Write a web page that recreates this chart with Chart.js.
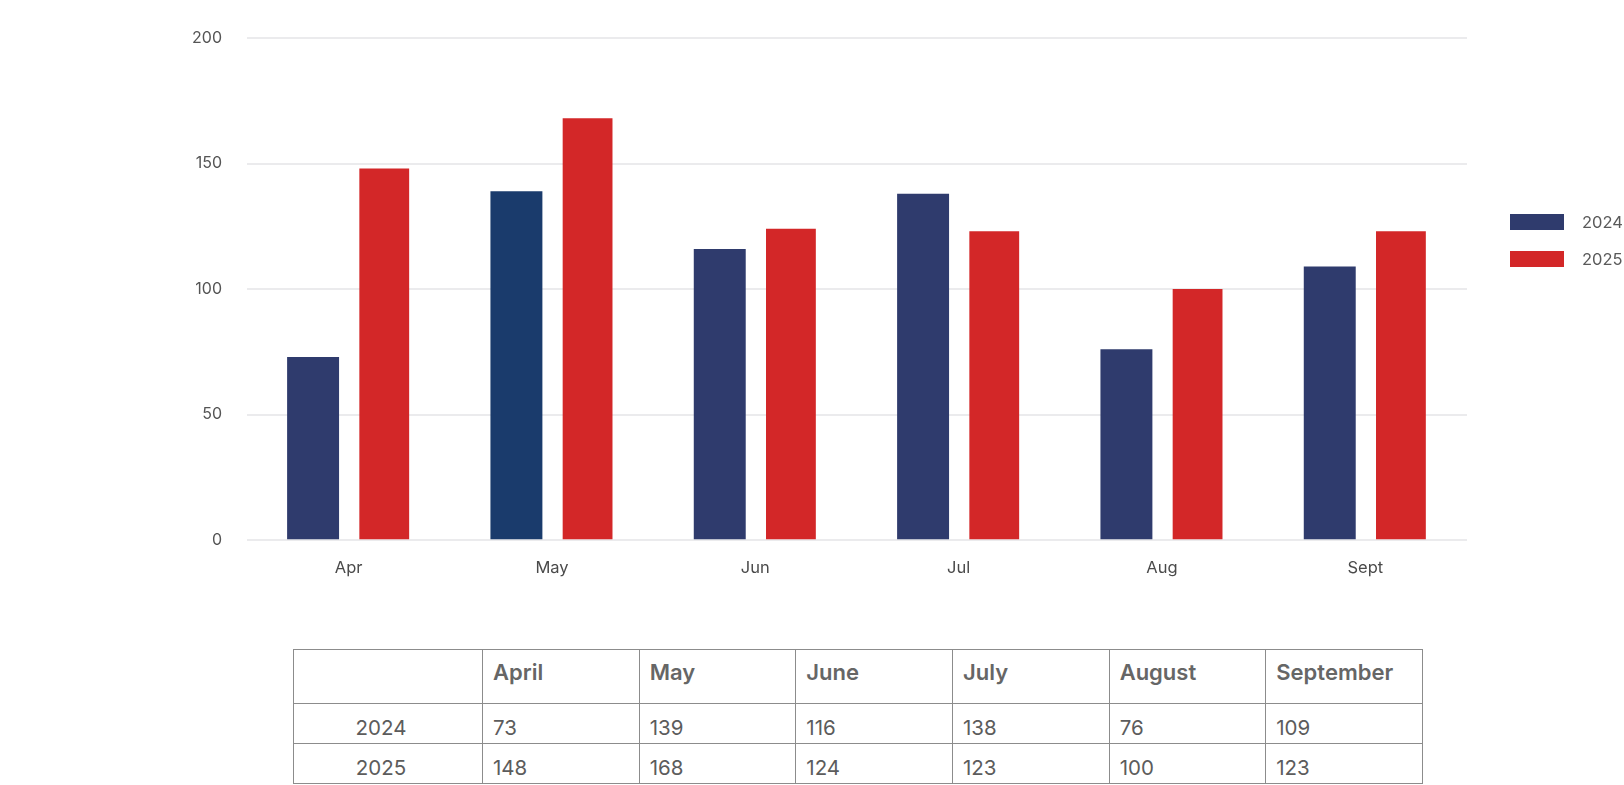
<!DOCTYPE html>
<html>
<head>
<meta charset="utf-8">
<script src="https://cdn.jsdelivr.net/npm/chart.js@4.4.1/dist/chart.umd.min.js"></script>
<style>
    html, body { margin: 0; padding: 0; background: #fff; }
    body { width: 1624px; height: 785px; position: relative; overflow: hidden; font-family: Inter, "Open Sans", sans-serif; }
    #chartBox { position: absolute; left: 0; top: 0; width: 1624px; height: 600px; }
    #legend { position: absolute; left: 1510px; top: 213px; }
    .legend-item { display: flex; align-items: center; height: 18px; margin-bottom: 19px; }
    .legend-swatch { width: 54px; height: 16px; margin-right: 18px; }
    .legend-text { font-size: 16.5px; color: #5a5a5a; }
    #dataTable { position: absolute; left: 293px; top: 649px; border-collapse: collapse; table-layout: fixed; width: 1130px; }
    #dataTable td, #dataTable th { border: 1px solid #8c8c8c; font-size: 20.5px; color: #5c5c5c; padding: 0 0 0 10px; text-align: left; }
    #dataTable th { font-size: 22px; font-weight: 600; height: 54px; vertical-align: top; padding-top: 9px; box-sizing: border-box; color: #666; }
    #dataTable td { height: 40px; vertical-align: middle; padding-top: 8px; box-sizing: border-box; }
    #dataTable td.row-head { text-align: center; padding-left: 0; padding-right: 14px; }
</style>
</head>
<body>
<div id="chartBox"><canvas id="barChart"></canvas></div>
<div id="legend"></div>
<table id="dataTable"></table>

<script>
// --- Data ---
const MONTHS_SHORT = ['Apr', 'May', 'Jun', 'Jul', 'Aug', 'Sept'];
const MONTHS_FULL = ['April', 'May', 'June', 'July', 'August', 'September'];
const SERIES_NAMES = ['2024', '2025'];
const VALUES_2024 = [73, 139, 116, 138, 76, 109];
const VALUES_2025 = [148, 168, 124, 123, 100, 123];
const Y_TICKS = [0, 50, 100, 150, 200];

// --- Colours ---
const NAVY = '#2f3b6d';
const NAVY_MAY = '#1a3b6c'; // May bar is a slightly different blue
const RED = '#d32728';
const colors2024 = MONTHS_SHORT.map((m, i) => (i === 1 ? NAVY_MAY : NAVY));

const ctx = document.getElementById('barChart').getContext('2d');

new Chart(ctx, {
    type: 'bar',
    data: {
        labels: MONTHS_SHORT,
        datasets: [
            { label: SERIES_NAMES[0], data: VALUES_2024, backgroundColor: colors2024, barPercentage: 0.73, categoryPercentage: 0.70 },
            { label: SERIES_NAMES[1], data: VALUES_2025, backgroundColor: RED, barPercentage: 0.70, categoryPercentage: 0.70 }
        ]
    },
    options: {
        responsive: true,
        maintainAspectRatio: false,
        animation: false,
        layout: { padding: { left: 190, right: 157, top: 38, bottom: 12 } },
        plugins: {
            legend: { display: false },
            tooltip: { enabled: false }
        },
        scales: {
            x: {
                grid: { display: false },
                border: { display: false },
                ticks: { color: '#4a4a4a', font: { family: 'Inter', size: 16.5 }, padding: 10 }
            },
            y: {
                min: 0,
                max: 200,
                afterBuildTicks: (scale) => { scale.ticks = Y_TICKS.map(v => ({ value: v })); },
                afterFit: (scale) => { scale.width = 57; },
                grid: { color: '#ebebed', lineWidth: 2, drawTicks: false },
                border: { display: false },
                ticks: { color: '#555', font: { family: 'Inter', size: 16 }, padding: 25 }
            }
        }
    }
});

// --- Legend (HTML) ---
const legendEl = document.getElementById('legend');
[NAVY, RED].forEach((c, i) => {
    const item = document.createElement('div');
    item.className = 'legend-item';
    item.innerHTML = `<div class="legend-swatch" style="background:${c}"></div><span class="legend-text">${SERIES_NAMES[i]}</span>`;
    legendEl.appendChild(item);
});

// --- Data table ---
const table = document.getElementById('dataTable');
let html = '<colgroup><col style="width:189px">' + MONTHS_FULL.map(() => '<col>').join('') + '</colgroup>';
html += '<tr><th></th>' + MONTHS_FULL.map(m => `<th>${m}</th>`).join('') + '</tr>';
[VALUES_2024, VALUES_2025].forEach((vals, i) => {
    html += `<tr><td class="row-head">${SERIES_NAMES[i]}</td>` + vals.map(v => `<td>${v}</td>`).join('') + '</tr>';
});
table.innerHTML = html;
</script>
</body>
</html>
